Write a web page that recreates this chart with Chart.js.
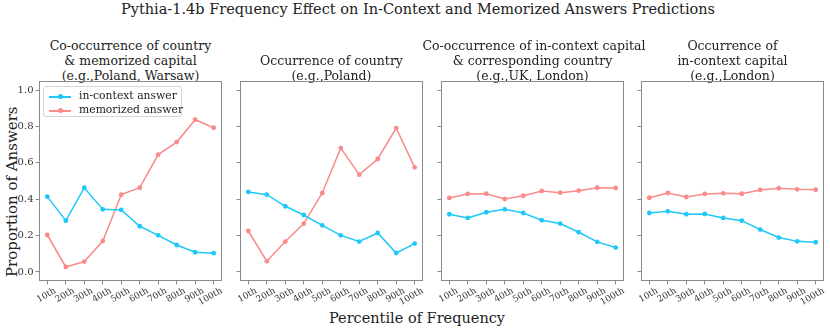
<!DOCTYPE html>
<html>
<head>
<meta charset="utf-8">
<script src="https://cdn.jsdelivr.net/npm/chart.js@4.4.0/dist/chart.umd.min.js"></script>
<style>
  body { margin: 0; background: #fff; font-family: "DejaVu Serif", serif; color: #222; }
  #wrap { position: relative; width: 830px; height: 331px; overflow: hidden; }
  .abs { position: absolute; white-space: nowrap; }
  .subtitle { font-size: 12.5px; line-height: 15px; text-align: center; width: 220px; }
  canvas { position: absolute; }
  .legend { position: absolute; left: 43px; top: 86px; width: 137px; height: 29px;
            border: 1px solid #d5d5d5; border-radius: 3px; background: rgba(255,255,255,0.8);
            font-size: 10.8px; z-index: 5; white-space: nowrap; }
  .legend .row { position: absolute; left: 0; height: 14px; width: 137px; }
  .legend .line { position: absolute; left: 5px; top: 6px; width: 22px; height: 1.5px; }
  .legend .dot { position: absolute; left: 14px; top: 4px; width: 5px; height: 5px; border-radius: 50%; }
  .legend .txt { position: absolute; left: 35px; top: -1px; }
</style>
</head>
<body>
<div id="wrap">
  <div class="abs" id="title" style="left:3px;width:830px;text-align:center;top:1px;font-size:14.5px;">Pythia-1.4b Frequency Effect on In-Context and Memorized Answers Predictions</div>
  <div class="abs" style="left:3px;top:277px;width:20px;height:20px;">
    <div style="position:absolute;left:0;top:0;transform-origin:0 0;transform:rotate(-90deg);font-size:15px;white-space:nowrap;">Proportion of Answers</div>
  </div>
  <div class="abs" style="left:0;width:830px;text-align:center;top:310px;font-size:14.5px;padding-left:2px;">Percentile of Frequency</div>
  <div class="legend">
    <div class="row" style="top:3px;"><div class="line" style="background:#1ec8f8"></div><div class="dot" style="background:#1ec8f8"></div><div class="txt">in-context answer</div></div>
    <div class="row" style="top:17px;"><div class="line" style="background:#f98b8b"></div><div class="dot" style="background:#f98b8b"></div><div class="txt">memorized answer</div></div>
  </div>
</div>
<script>
const percentiles = ['10th', '20th', '30th', '40th', '50th', '60th', '70th', '80th', '90th', '100th'];
const yTicks = [0.0, 0.2, 0.4, 0.6, 0.8, 1.0];

const panelTitles = [
  ['Co-occurrence of country', '& memorized capital', '(e.g.,Poland, Warsaw)'],
  ['Occurrence of country', '(e.g.,Poland)'],
  ['Co-occurrence of in-context capital', '& corresponding country', '(e.g.,UK, London)'],
  ['Occurrence of', 'in-context capital', '(e.g.,London)']
];

// in-context answer proportions per panel
const inContext1 = [0.414, 0.282, 0.463, 0.344, 0.341, 0.251, 0.201, 0.148, 0.108, 0.103];
const inContext2 = [0.440, 0.425, 0.361, 0.313, 0.256, 0.201, 0.167, 0.214, 0.104, 0.156];
const inContext3 = [0.317, 0.297, 0.328, 0.344, 0.324, 0.284, 0.266, 0.218, 0.165, 0.134];
const inContext4 = [0.324, 0.333, 0.317, 0.319, 0.297, 0.282, 0.233, 0.189, 0.168, 0.163];

// memorized answer proportions per panel
const memorized1 = [0.203, 0.027, 0.057, 0.170, 0.425, 0.463, 0.645, 0.714, 0.837, 0.793];
const memorized2 = [0.225, 0.059, 0.167, 0.266, 0.434, 0.681, 0.535, 0.621, 0.791, 0.575];
const memorized3 = [0.407, 0.429, 0.430, 0.401, 0.419, 0.445, 0.436, 0.447, 0.463, 0.462];
const memorized4 = [0.408, 0.434, 0.412, 0.429, 0.432, 0.430, 0.451, 0.460, 0.454, 0.452];

const inContextSeries = [inContext1, inContext2, inContext3, inContext4];
const memorizedSeries = [memorized1, memorized2, memorized3, memorized4];

const BLUE = '#1ec8f8';
const RED = '#f98b8b';
const plotLefts = [39, 240, 441, 641];
const plotTop = 81, plotW = 183, plotH = 200;
const padL = 32, padT = 4, padR = 8, padB = 40;

const boxPlugin = {
    id: 'box',
    afterDraw(chart) {
        const a = chart.chartArea;
        const ctx = chart.ctx;
        ctx.save();
        ctx.strokeStyle = '#8a8a8a';
        ctx.lineWidth = 1;
        ctx.strokeRect(Math.round(a.left) + 0.5, Math.round(a.top) + 0.5,
            Math.round(a.right - a.left) - 1, Math.round(a.bottom - a.top) - 1);
        ctx.restore();
    }
};

const wrap = document.getElementById('wrap');

function toPoints(arr) {
    return arr.map((v, i) => ({ x: i, y: v }));
}

for (let p = 0; p < 4; p++) {
    const center = plotLefts[p] + plotW / 2;
    const t = document.createElement('div');
    t.className = 'abs subtitle';
    t.style.left = (center - 110) + 'px';
    const lines = panelTitles[p];
    t.style.top = (38 + (3 - lines.length) * 15) + 'px';
    t.innerHTML = lines.join('<br>');
    wrap.appendChild(t);

    const canvas = document.createElement('canvas');
    canvas.width = plotW + padL + padR;
    canvas.height = plotH + padT + padB;
    canvas.style.left = (plotLefts[p] - padL) + 'px';
    canvas.style.top = (plotTop - padT) + 'px';
    wrap.appendChild(canvas);

    new Chart(canvas.getContext('2d'), {
        type: 'line',
        data: {
            datasets: [
                {
                    label: 'in-context answer',
                    data: toPoints(inContextSeries[p]),
                    borderColor: BLUE,
                    backgroundColor: BLUE,
                    borderWidth: 1.5,
                    pointRadius: 2.4,
                    pointBorderWidth: 0,
                    tension: 0
                },
                {
                    label: 'memorized answer',
                    data: toPoints(memorizedSeries[p]),
                    borderColor: RED,
                    backgroundColor: RED,
                    borderWidth: 1.5,
                    pointRadius: 2.4,
                    pointBorderWidth: 0,
                    tension: 0
                }
            ]
        },
        options: {
            responsive: false,
            animation: false,
            layout: { padding: { top: padT, right: padR, left: 0, bottom: 0 } },
            plugins: { legend: { display: false }, tooltip: { enabled: false } },
            scales: {
                x: {
                    type: 'linear',
                    min: -0.45,
                    max: 9.45,
                    afterFit: s => { s.height = padB; s.paddingLeft = 0; s.paddingRight = 0; },
                    afterBuildTicks: s => { s.ticks = percentiles.map((_, i) => ({ value: i })); },
                    border: { display: false },
                    grid: { drawOnChartArea: false, drawTicks: true, tickLength: 3.5, color: '#8a8a8a' },
                    ticks: {
                        autoSkip: false,
                        minRotation: 30,
                        maxRotation: 30,
                        padding: 1,
                        labelOffset: 8,
                        color: '#333',
                        font: { family: 'DejaVu Serif', size: 8.8 },
                        callback: v => percentiles[v]
                    }
                },
                y: {
                    min: -0.05,
                    max: 1.05,
                    afterFit: s => { s.width = padL; s.paddingTop = 0; s.paddingBottom = 0; },
                    afterBuildTicks: s => { s.ticks = yTicks.map(v => ({ value: v })); },
                    border: { display: false },
                    grid: { drawOnChartArea: false, drawTicks: true, tickLength: 3.5, color: '#8a8a8a' },
                    ticks: {
                        display: p === 0,
                        padding: 2,
                        color: '#333',
                        font: { family: 'DejaVu Serif', size: 10 },
                        callback: v => v.toFixed(1)
                    }
                }
            }
        },
        plugins: [boxPlugin]
    });
}
</script>
</body>
</html>
